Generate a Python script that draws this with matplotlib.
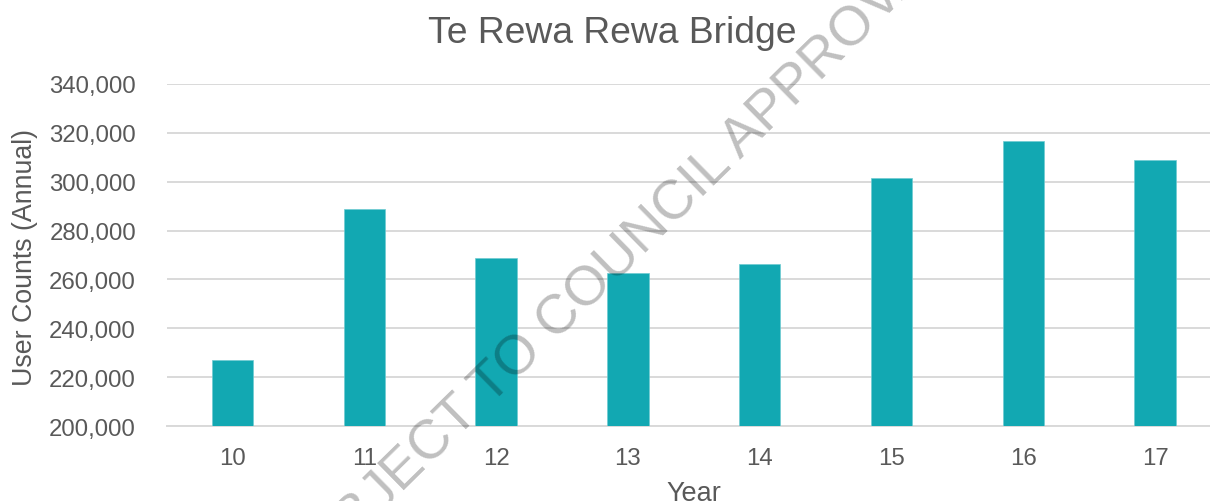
import matplotlib
matplotlib.use("Agg")
import matplotlib.pyplot as plt
from matplotlib.ticker import FuncFormatter

# Annual user counts on the Te Rewa Rewa Bridge
years = ["10", "11", "12", "13", "14", "15", "16", "17"]
user_counts = [227200, 288600, 268800, 262600, 266300, 301400, 316400, 308800]
y_ticks = [200000, 220000, 240000, 260000, 280000, 300000, 320000, 340000]

TEXT = "#595959"
GRID = "#d9d9d9"
BAR = "#12a8b2"

plt.rcParams["font.family"] = ["Liberation Sans", "DejaVu Sans"]

W, H = 1210, 502
fig = plt.figure(figsize=(W / 100, H / 100), dpi=100)
# plot area runs slightly past the right edge of the canvas
ax_left, ax_right = 166.6, 1221.0
ax_bottom, ax_top = 427.3, 84.7
ax = fig.add_axes([ax_left / W, 1 - ax_bottom / H,
                   (ax_right - ax_left) / W, (ax_bottom - ax_top) / H])

x = list(range(len(years)))
ax.bar(x, user_counts, width=0.315, color=BAR, edgecolor="#6fcbd1",
       linewidth=0.5, zorder=3)

ax.set_ylim(y_ticks[0], y_ticks[-1])
ax.set_xlim(-0.5, len(years) - 0.5)
ax.set_yticks(y_ticks)
ax.yaxis.set_major_formatter(FuncFormatter(lambda v, p: f"{int(v):,}"))
ax.set_xticks(x)
ax.set_xticklabels(years)

ax.grid(axis="y", color=GRID, linewidth=1.4, zorder=0)
ax.set_axisbelow(True)
for side in ["top", "right", "left"]:
    ax.spines[side].set_visible(False)
ax.spines["bottom"].set_color(GRID)
ax.spines["bottom"].set_linewidth(1.4)

ax.tick_params(axis="y", length=0, pad=22, labelsize=17.3, labelcolor=TEXT)
ax.tick_params(axis="x", length=0, pad=15, labelsize=17.3, labelcolor=TEXT)

fig.text(25 / W, 1 - 257 / H, "User Counts (Annual)", rotation=90,
         ha="center", va="center", fontsize=19.3, color=TEXT)
fig.text(694 / W, 1 - 501 / H, "Year", ha="center", va="baseline",
         fontsize=19.5, color=TEXT)
fig.text(612 / W, 1 - 43 / H, "Te Rewa Rewa Bridge", ha="center",
         va="baseline", fontsize=26.8, color=TEXT)

# Draft watermark across the chart
fig.text(616 / W, 1 - 263 / H, "SUBJECT TO COUNCIL APPROVAL", rotation=44.5,
         rotation_mode="anchor", ha="center", va="center", fontsize=40,
         color="black", alpha=0.25, zorder=10)

fig.savefig("out.png", dpi=100)
